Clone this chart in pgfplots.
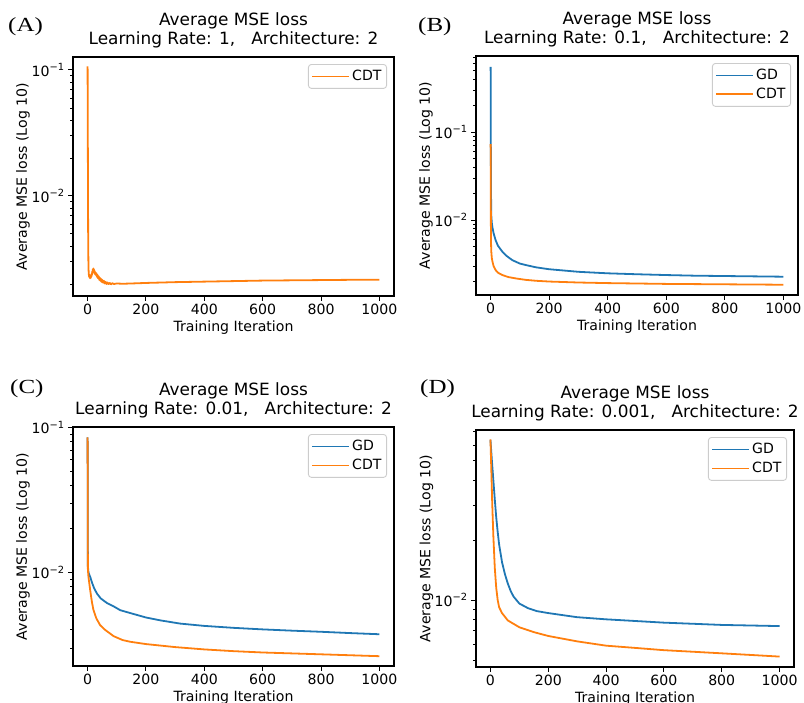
\documentclass[border=0pt]{standalone}
\usepackage{fontspec}
\setmainfont{DejaVu Sans}
\newfontfamily\lblserif[FakeStretch=1.25]{Liberation Serif}
\usepackage{pgfplots}
\pgfplotsset{compat=1.18}
\definecolor{tabblue}{HTML}{1F77B4}
\definecolor{taborange}{HTML}{FF7F0E}
\newcommand\tickfont{\fontsize{14.1}{16.5}\selectfont}
\newcommand\titfont{\fontsize{16.9}{18.5}\selectfont}
\newcommand\lblfont{\lblserif\fontsize{20}{23}\selectfont}
\pgfplotsset{
 panel/.style={
  scale only axis, xmin=-50, xmax=1050,
  xtick={0,200,400,600,800,1000},
  tick align=outside, tick pos=left,
  major tick length=4.8pt, minor tick length=2.7pt,
  major tick style={line width=1pt, black},
  minor tick style={line width=0.8pt, black},
  axis line style={line width=1.1pt},
  ticklabel style={font=\tickfont},
  /pgf/number format/assume math mode=true,
  /pgf/number format/1000 sep={},
  xlabel={Training Iteration}, ylabel={Average MSE loss (Log 10)},
  label style={font=\tickfont},
  xlabel style={at={(axis description cs:0.5,0)}, anchor=base, yshift=-35pt},
  ylabel style={at={(axis description cs:-0.1435,0.5)}, anchor=base},
  title style={at={(axis description cs:0.5,1)}, anchor=south, inner sep=0pt, yshift=3pt, align=center, font=\titfont},
  legend style={at={(axis description cs:1,1)}, anchor=north east, xshift=-7pt, yshift=-7pt, draw=black!20, line width=0.9pt, rounded corners=3pt, font=\tickfont, inner xsep=3pt, inner ysep=4pt, row sep=3pt},
  legend cell align=left,
  legend image code/.code={\draw[#1] (0pt,0pt) -- (30pt,0pt); \path (0pt,0pt) -- (37pt,0pt);},
  every axis plot/.append style={line width=1.8pt, line join=round},
 }
}
\begin{document}
\begin{tikzpicture}
% (A)
\begin{semilogyaxis}[panel, at={(73pt,-57pt)}, anchor=north west, width=321pt, height=239pt,
 ymin=1.607e-3, ymax=0.1268, ytick={0.01,0.1}, yticklabels={10\textsuperscript{−2},10\textsuperscript{−1}},
 minor ytick={0.002,0.003,0.004,0.005,0.006,0.007,0.008,0.009,0.02,0.03,0.04,0.05,0.06,0.07,0.08,0.09},
 title={Average MSE loss\\Learning Rate: 1,\ \ \ Architecture: 2}]
\addplot[taborange] coordinates {
(0,0.107) (1,0.02) (2,0.0045) (3,0.0027) (4,0.00242) (5,0.00230) (6,0.00237) (7,0.00224) (8,0.00233) (9,0.00222) (10,0.00234) (11,0.00224) (12,0.00236) (13,0.00229) (14,0.00242) (15,0.00236) (16,0.00252) (17,0.00244) (18,0.00262) (19,0.00250) (20,0.00266) (21,0.00252) (22,0.00260) (23,0.00246) (24,0.00254) (25,0.00240) (26,0.00248) (28,0.00236) (30,0.00244) (32,0.00228) (34,0.00236) (36,0.00222) (38,0.00230) (40,0.00216) (42,0.00224) (44,0.00212) (46,0.00220) (48,0.00208) (50,0.00216) (53,0.00205) (56,0.00212) (59,0.00202) (62,0.00208) (65,0.00200) (68,0.00206) (72,0.00200) (76,0.00204) (80,0.00199) (85,0.00203) (90,0.00200) (100,0.00202) (120,0.00201) (150,0.00202) (200,0.00204) (300,0.00207) (400,0.00209) (500,0.00211) (600,0.00213) (700,0.00214) (800,0.00215) (900,0.00216) (1000,0.00216)};
\legend{CDT}
\end{semilogyaxis}
% (B)
\begin{semilogyaxis}[panel, at={(476pt,-56pt)}, anchor=north west, width=322pt, height=239pt,
 ymin=1.406e-3, ymax=0.731, ytick={0.01,0.1}, yticklabels={10\textsuperscript{−2},10\textsuperscript{−1}},
 minor ytick={0.002,0.003,0.004,0.005,0.006,0.007,0.008,0.009,0.02,0.03,0.04,0.05,0.06,0.07,0.08,0.09,0.2,0.3,0.4,0.5,0.6,0.7},
 title={Average MSE loss\\Learning Rate: 0.1,\ \ \ Architecture: 2}]
\addplot[tabblue] coordinates {
(0,0.55) (1,0.03) (2,0.0115) (4,0.0093) (6,0.0083) (10,0.0071) (17,0.0059) (25,0.0051) (40,0.00437) (55,0.0039) (74,0.0035) (100,0.0032) (120,0.00308) (155,0.00290) (200,0.00276) (300,0.00258) (400,0.00248) (500,0.00242) (600,0.00237) (700,0.00233) (800,0.00231) (900,0.00229) (1000,0.00227)};
\addplot[taborange] coordinates {
(0,0.073) (1,0.0065) (2,0.0045) (4,0.0037) (6,0.0034) (10,0.0030) (17,0.0027) (25,0.00252) (40,0.00237) (60,0.00225) (86,0.00217) (120,0.00209) (155,0.00204) (200,0.0020) (300,0.00195) (400,0.00192) (500,0.0019) (600,0.00188) (700,0.00187) (800,0.00186) (900,0.00185) (1000,0.00184)};
\legend{GD,CDT}
\end{semilogyaxis}
% (C)
\begin{semilogyaxis}[panel, at={(73pt,-427pt)}, anchor=north west, width=321pt, height=239pt,
 ymin=2.25e-3, ymax=0.101, ytick={0.01,0.1}, yticklabels={10\textsuperscript{−2},10\textsuperscript{−1}},
 minor ytick={0.003,0.004,0.005,0.006,0.007,0.008,0.009,0.02,0.03,0.04,0.05,0.06,0.07,0.08,0.09},
 title={Average MSE loss\\Learning Rate: 0.01,\ \ \ Architecture: 2}]
\addplot[tabblue] coordinates {
(0,0.0857) (1,0.011) (3,0.0100) (6,0.0096) (9,0.0093) (15,0.0085) (22,0.0078) (32,0.00713) (45,0.0066) (66,0.00614) (90,0.0058) (112,0.00547) (150,0.0052) (200,0.00487) (250,0.00465) (317,0.00442) (400,0.00426) (500,0.00413) (600,0.00403) (700,0.00395) (800,0.00388) (900,0.0038) (1000,0.00373)};
\addplot[taborange] coordinates {
(0,0.0857) (1,0.0105) (3,0.0093) (9,0.0075) (15,0.0062) (20,0.0055) (30,0.0048) (43,0.00431) (60,0.0040) (89,0.00362) (120,0.0034) (146,0.00331) (200,0.00319) (300,0.00304) (400,0.00293) (500,0.00285) (600,0.00279) (700,0.00275) (800,0.00271) (900,0.00267) (1000,0.00263)};
\legend{GD,CDT}
\end{semilogyaxis}
% (D)
\begin{semilogyaxis}[panel, at={(476pt,-430pt)}, anchor=north west, width=318pt, height=237pt,
 ymin=4.61e-3, ymax=0.0714, ytick={0.01}, yticklabels={10\textsuperscript{−2}},
 minor ytick={0.005,0.006,0.007,0.008,0.009,0.02,0.03,0.04,0.05,0.06,0.07},
 title={Average MSE loss\\Learning Rate: 0.001,\ \ \ Architecture: 2}]
\addplot[tabblue] coordinates {
(0,0.0637) (5,0.050) (10,0.040) (15,0.032) (20,0.026) (25,0.022) (30,0.019) (40,0.0155) (50,0.0135) (60,0.0121) (70,0.0111) (80,0.0104) (100,0.0096) (130,0.0091) (160,0.0088) (200,0.0086) (300,0.0082) (400,0.0080) (500,0.00785) (600,0.0077) (700,0.0076) (800,0.0075) (900,0.00745) (1000,0.0074)};
\addplot[taborange] coordinates {
(0,0.064) (3,0.045) (6,0.031) (10,0.021) (15,0.0145) (20,0.0115) (25,0.0100) (30,0.0092) (40,0.0086) (60,0.0079) (100,0.0073) (150,0.0069) (200,0.0066) (300,0.0062) (400,0.0059) (500,0.00575) (600,0.0056) (700,0.0055) (800,0.0054) (900,0.0053) (1000,0.0052)};
\legend{GD,CDT}
\end{semilogyaxis}
\node[anchor=base west, inner sep=0pt, font=\lblfont] at (8pt,-32pt) {(A)};
\node[anchor=base west, inner sep=0pt, font=\lblfont] at (418pt,-32pt) {(B)};
\node[anchor=base west, inner sep=0pt, font=\lblfont] at (10pt,-394pt) {(C)};
\node[anchor=base west, inner sep=0pt, font=\lblfont] at (420pt,-394pt) {(D)};
\pgfresetboundingbox
\useasboundingbox (0pt,0pt) rectangle (804pt,-703pt);
\end{tikzpicture}
\end{document}
